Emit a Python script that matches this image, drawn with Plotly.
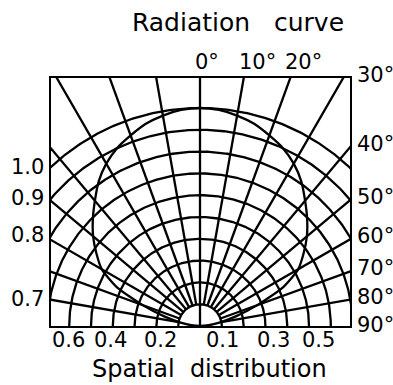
import numpy as np
import plotly.graph_objects as go

# Relative radiant intensity versus off-axis angle (pattern is symmetric)
curve_angles = [0, 5, 10, 15, 20, 25, 30, 35, 40, 45, 50, 55, 60, 65, 70, 75, 80, 85, 90]
curve_intensity = [1.00, 0.995, 0.98, 0.96, 0.93, 0.90, 0.86, 0.81, 0.75, 0.695,
                   0.64, 0.58, 0.52, 0.42, 0.28, 0.17, 0.09, 0.04, 0.0]

# Polar grid
grid_radii = [0.1, 0.2, 0.3, 0.4, 0.5, 0.6, 0.7, 0.8, 0.9, 1.0]
spoke_angles = [-80, -70, -60, -50, -40, -30, -20, -10, 0, 10, 20, 30, 40, 50, 60, 70, 80]

# Tick labels
top_angle_labels = [0, 10, 20]
side_angle_labels = [30, 40, 50, 60, 70, 80, 90]
left_radius_labels = [1.0, 0.9, 0.8, 0.7]
bottom_left_labels = [0.6, 0.4, 0.2]
bottom_right_labels = [0.1, 0.3, 0.5]

FONT = "DejaVu Sans"
INK = "black"
LW = 2.3

# Frame of the chart in pixels; the pole sits on the bottom edge
W, H = 393, 385
BOX_L, BOX_R, BOX_T, BOX_B = 51, 350, 78, 326
POLE_X = 200
SCALE = 218.0  # pixels per unit of relative intensity

x_min = (BOX_L - POLE_X) / SCALE
x_max = (BOX_R - POLE_X) / SCALE
y_max = (BOX_B - BOX_T) / SCALE

fig = go.Figure()

# Concentric circles
t = np.radians(np.linspace(-90, 90, 361))
cx, cy = [], []
for r in grid_radii:
    cx += list(r * np.sin(t)) + [None]
    cy += list(r * np.cos(t)) + [None]
fig.add_trace(go.Scatter(x=cx, y=cy, mode="lines",
                         line=dict(color=INK, width=LW), hoverinfo="skip"))

# Spokes, starting at the innermost circle (the axis runs down to the pole)
sx, sy = [], []
for a in spoke_angles:
    ar = np.radians(a)
    r0 = 0.0 if a == 0 else grid_radii[0]
    sx += [r0 * np.sin(ar), 3 * np.sin(ar), None]
    sy += [r0 * np.cos(ar), 3 * np.cos(ar), None]
fig.add_trace(go.Scatter(x=sx, y=sy, mode="lines",
                         line=dict(color=INK, width=LW), hoverinfo="skip"))

# Radiation pattern, mirrored to both sides
ang = np.array(curve_angles, dtype=float)
inten = np.array(curve_intensity, dtype=float)
full_ang = np.concatenate([-ang[::-1], ang[1:]])
full_r = np.concatenate([inten[::-1], inten[1:]])
fr = np.radians(full_ang)
fig.add_trace(go.Scatter(x=full_r * np.sin(fr), y=full_r * np.cos(fr), mode="lines",
                         line=dict(color=INK, width=LW, shape="spline", smoothing=0.6),
                         hoverinfo="skip"))

annotations = []
tick_font = dict(family=FONT, size=21, color=INK)

# Angle labels along the top edge
for a in top_angle_labels:
    ar = np.radians(a)
    annotations.append(dict(x=y_max * np.tan(ar), y=y_max, xref="x", yref="y",
                            text=f"{a}°", showarrow=False, xanchor="left",
                            yanchor="middle", xshift=-7, yshift=16, font=tick_font))

# Angle labels along the right edge
for a in side_angle_labels:
    ar = np.radians(a)
    yy = 0.0 if a == 90 else min(x_max / np.tan(ar), y_max)
    annotations.append(dict(x=x_max, y=yy, xref="x", yref="y",
                            text=f"{a}°", showarrow=False, xanchor="left",
                            yanchor="middle", xshift=5, yshift=3 if a < 90 else 1,
                            font=tick_font))

# Intensity labels where circles meet the left edge
for v in left_radius_labels:
    yy = np.sqrt(v ** 2 - x_min ** 2)
    annotations.append(dict(x=x_min, y=yy, xref="x", yref="y",
                            text=f"{v:.1f}", showarrow=False, xanchor="right",
                            yanchor="middle", xshift=-5, yshift=-6 if v < 0.75 else 0,
                            font=tick_font))

# Intensity labels along the bottom edge
bottom_nudge = {0.6: -1, 0.4: -2, 0.2: 4, 0.1: 1, 0.3: 8, 0.5: 9}
for v in bottom_left_labels:
    annotations.append(dict(x=-v, y=0, xref="x", yref="y", text=f"{v:.1f}",
                            showarrow=False, xanchor="center", yanchor="middle",
                            xshift=bottom_nudge[v], yshift=-14, font=tick_font))
for v in bottom_right_labels:
    annotations.append(dict(x=v, y=0, xref="x", yref="y", text=f"{v:.1f}",
                            showarrow=False, xanchor="center", yanchor="middle",
                            xshift=bottom_nudge[v], yshift=-14, font=tick_font))

# Axis caption below the frame
annotations.append(dict(x=(209 - BOX_L) / (BOX_R - BOX_L), y=(BOX_B - 369) / (BOX_B - BOX_T),
                        xref="paper", yref="paper",
                        text="Spatial\u00a0\u00a0distribution", showarrow=False,
                        xanchor="center", yanchor="middle",
                        font=dict(family=FONT, size=24, color=INK)))

axis_common = dict(showgrid=False, zeroline=False, showticklabels=False, ticks="",
                   showline=True, mirror=True, linecolor=INK, linewidth=LW,
                   fixedrange=True)

fig.update_layout(
    width=W, height=H,
    margin=dict(l=BOX_L, r=W - BOX_R, t=BOX_T, b=H - BOX_B, pad=0),
    paper_bgcolor="white", plot_bgcolor="white",
    showlegend=False,
    title=dict(text="Radiation\u00a0\u00a0\u00a0curve", x=238 / W, xref="container",
               y=1 - 22 / H, yref="container", xanchor="center", yanchor="middle",
               font=dict(family=FONT, size=25, color=INK)),
    xaxis=dict(range=[x_min, x_max], **axis_common),
    yaxis=dict(range=[0, y_max], **axis_common),
    annotations=annotations,
)

fig.write_html("out.html")
